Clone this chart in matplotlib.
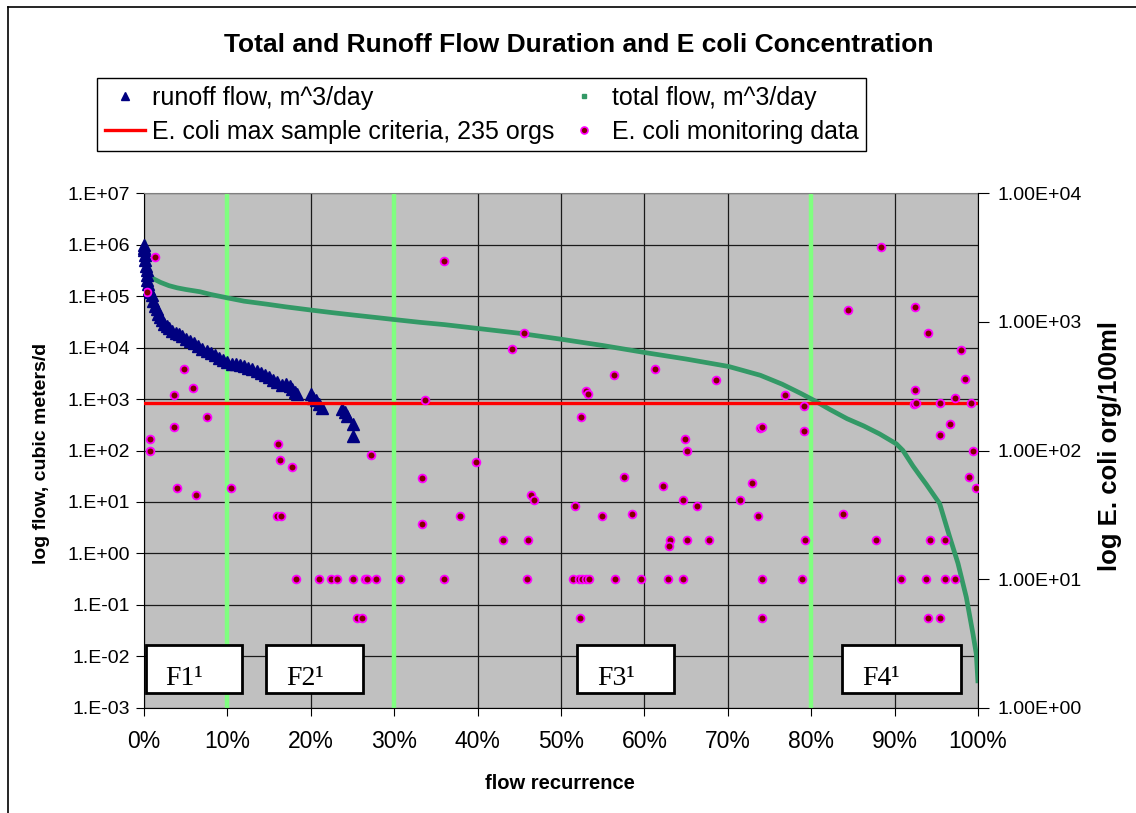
import matplotlib.pyplot as plt
from matplotlib.lines import Line2D
from matplotlib.patches import Rectangle
from matplotlib.ticker import FixedLocator, NullLocator, PercentFormatter

plt.rcParams['font.family'] = ['Liberation Sans', 'DejaVu Sans']

# runoff flow duration (percent recurrence, m^3/day)
runoff_pct = [0.0, 0.0, 0.05, 0.1, 0.15, 0.25, 0.3, 0.35, 0.4, 0.5, 0.6, 0.75,
              0.9, 1.1, 1.3, 1.5, 1.7, 1.9, 2.1, 2.4, 2.7, 3.0, 3.4, 3.8, 4.2,
              4.6, 5.0, 5.5, 6.0, 6.5, 7.0, 7.5, 8.0, 8.5, 9.0, 9.5, 10.0,
              10.5, 11.0, 11.5, 12.0, 12.5, 13.0, 13.5, 14.0, 14.5, 15.0, 15.5,
              16.0, 16.5, 17.0, 17.5, 17.8, 18.1, 18.4, 20.0, 20.3, 20.6, 21.0,
              21.4, 23.8, 24.1, 24.4, 25.0, 25.0]
runoff_flow = [1.0e6, 8.8e5, 7.8e5, 6.3e5, 5.0e5, 3.8e5, 3.2e5, 2.6e5, 2.1e5,
               1.7e5, 1.4e5, 1.2e5, 1.05e5, 8.0e4, 6.5e4, 5.6e4, 4.6e4, 3.9e4,
               3.4e4, 2.9e4, 2.6e4, 2.4e4, 2.15e4, 1.95e4, 1.8e4, 1.65e4,
               1.5e4, 1.35e4, 1.22e4, 1.08e4, 9.6e3, 8.7e3, 7.9e3, 7.1e3,
               6.4e3, 5.8e3, 5.2e3, 4.9e3, 4.7e3, 4.5e3, 4.4e3, 4.1e3, 3.8e3,
               3.5e3, 3.2e3, 2.9e3, 2.7e3, 2.4e3, 2.1e3, 1.9e3, 2.0e3, 1.8e3,
               1.6e3, 1.4e3, 1.25e3, 1.25e3, 1.05e3, 9.5e2, 8.0e2, 6.8e2,
               6.5e2, 5.5e2, 4.6e2, 3.3e2, 1.95e2]

# total flow duration
total_pct = [0.0, 0.1, 0.2, 0.3, 0.5, 0.8, 1.2, 2.0, 3.0, 4.0, 5.0, 6.7, 8.0,
             10.1, 12.0, 14.7, 17.0, 19.9, 22.5, 25.1, 27.5, 30.1, 33.1, 36.0,
             40.1, 45.0, 50.1, 55.0, 60.1, 65.0, 70.1, 73.9, 76.5, 78.7, 80.3,
             82.3, 84.3, 86.3, 88.2, 90.2, 91.0, 92.2, 93.0, 93.8, 95.4, 96.6,
             97.6, 98.6, 99.4, 99.8, 100.0]
total_flow = [1.2e6, 8e5, 5e5, 3.5e5, 2.8e5, 2.4e5, 2.15e5, 1.85e5, 1.6e5,
              1.45e5, 1.35e5, 1.22e5, 1.08e5, 9.2e4, 8.0e4, 7.0e4, 6.2e4,
              5.4e4, 4.8e4, 4.3e4, 3.9e4, 3.5e4, 3.1e4, 2.8e4, 2.35e4, 1.9e4,
              1.45e4, 1.1e4, 8.0e3, 6.0e3, 4.3e3, 2.9e3, 1.95e3, 1.3e3, 9.5e2,
              6.2e2, 4.15e2, 3.0e2, 2.1e2, 1.35e2, 100, 50, 33, 22, 9.3, 2.1,
              0.64, 0.14, 0.027, 0.011, 0.003]

# E. coli monitoring data (percent recurrence, org/100ml)
ecoli_pct = [1.3, 0.4, 4.8, 5.9, 3.6, 7.5, 3.6, 0.7, 0.7, 16.1, 16.3, 17.8,
             27.2, 4.0, 6.2, 10.4, 16.0, 16.4, 18.2, 21.0, 22.4, 23.2, 25.1,
             26.5, 26.7, 27.8, 30.7, 36.0, 25.5, 26.1, 33.3, 33.3, 37.9, 39.8,
             36.0, 45.6, 44.1, 33.7, 56.4, 61.3, 68.6, 76.8, 53.0, 53.2, 52.4,
             64.9, 65.1, 73.9, 74.1, 57.5, 62.2, 72.9, 46.4, 46.8, 51.7, 54.9,
             58.5, 64.6, 66.3, 71.5, 73.6, 43.1, 46.1, 63.1, 62.9, 65.1, 67.8,
             79.3, 87.8, 45.9, 51.4, 52.2, 52.5, 53.0, 53.3, 56.5, 59.6, 62.8,
             64.6, 74.1, 78.9, 52.3, 74.1, 88.4, 84.4, 92.5, 94.0, 98.0, 98.4,
             92.5, 79.1, 92.3, 92.6, 95.4, 97.2, 99.2, 79.1, 96.6, 95.4, 99.4,
             98.9, 99.8, 83.8, 94.3, 96.0, 90.8, 93.8, 96.0, 97.2, 94.0, 95.4]
ecoli_val = [3200, 1700, 430, 306, 268, 182, 152, 123, 100, 113, 84, 75,
             92, 51, 45, 51, 31, 31, 10, 10, 10, 10, 10,
             10, 10, 10, 10, 10, 5, 5, 61, 27, 31, 82,
             3000, 815, 620, 245, 387, 430, 351, 268, 288, 275, 182,
             123, 100, 149, 152, 62, 53, 56, 45, 41, 37, 31,
             32, 41, 37, 41, 31, 20, 20, 20, 18, 20, 20,
             20, 20, 10, 10, 10, 10, 10, 10, 10, 10, 10,
             10, 10, 10, 5, 5, 3840, 1230, 1316, 815, 608, 360,
             293, 223, 228, 234, 234, 256, 234, 142, 162, 133, 100,
             62, 51, 32, 20, 20, 10, 10, 10, 10, 5, 5]

criteria = 235
zone_lines = [10, 30, 80]
zone_names = ['F1\u00b9', 'F2\u00b9', 'F3\u00b9', 'F4\u00b9']
zone_left = [0.2, 14.6, 51.9, 83.7]
zone_width = [11.6, 11.6, 11.6, 14.3]

flow_ticks = [1e-3, 1e-2, 1e-1, 1e0, 1e1, 1e2, 1e3, 1e4, 1e5, 1e6, 1e7]
flow_labels = ['1.E-03', '1.E-02', '1.E-01', '1.E+00', '1.E+01', '1.E+02',
               '1.E+03', '1.E+04', '1.E+05', '1.E+06', '1.E+07']
ecoli_ticks = [1, 10, 100, 1000, 10000]
ecoli_labels = ['1.00E+00', '1.00E+01', '1.00E+02', '1.00E+03', '1.00E+04']

W, H = 1136, 813
fig = plt.figure(figsize=(W / 100, H / 100), dpi=100)
ax = fig.add_axes([144 / W, 1 - 707.7 / H, 834 / W, 514.4 / H])
ax.set_facecolor('#C0C0C0')
ax.set_xlim(0, 100)
ax.set_yscale('log')
ax.set_ylim(1e-3, 1e7)
ax.yaxis.set_major_locator(FixedLocator(flow_ticks))
ax.set_yticklabels(flow_labels)
ax.yaxis.set_minor_locator(NullLocator())
ax.set_xticks(range(0, 101, 10))
ax.xaxis.set_major_formatter(PercentFormatter(100, decimals=0))
ax.grid(True, color='#1a1a1a', lw=0.9)
ax.set_axisbelow(True)
ax.tick_params(axis='y', direction='out', length=6, labelsize=14, pad=4)
ax.tick_params(axis='x', direction='out', length=6, labelsize=16.5, pad=10)
ax.spines['top'].set_color('#808080')
ax.spines['right'].set_visible(False)

for z in zone_lines:
    ax.axvline(z, color='#80FF80', lw=3.2, zorder=2)

ax.plot(total_pct, total_flow, '-', color='#339966', lw=3.4,
        solid_capstyle='butt', zorder=3)
ax.plot(runoff_pct, runoff_flow, '^', color='#000080', ms=8, mec='#000080',
        zorder=4, clip_on=False)

for name, left, w in zip(zone_names, zone_left, zone_width):
    ax.add_patch(Rectangle((left / 100, 0.0286), w / 100, 0.0926,
                           transform=ax.transAxes, facecolor='white',
                           edgecolor='black', lw=2, zorder=5))
    ax.text(left / 100 + 0.024, 0.044, name, transform=ax.transAxes,
            family='Liberation Serif', fontsize=20, zorder=6)

ax2 = ax.twinx()
ax2.set_yscale('log')
ax2.set_ylim(1, 1e4)
ax2.yaxis.set_major_locator(FixedLocator(ecoli_ticks))
ax2.set_yticklabels(ecoli_labels)
ax2.yaxis.set_minor_locator(NullLocator())
ax2.tick_params(axis='y', direction='out', length=8, labelsize=14, pad=6)
for s in ['top', 'left', 'bottom']:
    ax2.spines[s].set_visible(False)
ax2.axhline(criteria, color='#FF0000', lw=2.4, zorder=2)
ax2.plot(ecoli_pct, ecoli_val, 'o', mfc='#800000', mec='#FF00FF', ms=5.6,
         mew=1.3, zorder=3)

handles = [
    Line2D([], [], marker='^', ls='', color='#000080', ms=6),
    Line2D([], [], color='#FF0000', lw=2.4),
    Line2D([], [], marker='s', ls='', color='#339966', ms=2.5),
    Line2D([], [], marker='o', ls='', mfc='#800000', mec='#FF00FF', ms=5,
           mew=1.2),
]
labels = ['runoff flow, m^3/day', 'E. coli max sample criteria, 235 orgs',
          'total flow, m^3/day', 'E. coli monitoring data']
leg = fig.legend(handles, labels, loc='upper left', ncol=2,
                 bbox_to_anchor=(97 / W, 1 - 78 / H),
                 fontsize=18, frameon=True, fancybox=False, framealpha=1,
                 edgecolor='black', borderaxespad=0, handlelength=1.6,
                 handletextpad=0.3, labelspacing=0.4, borderpad=0.3,
                 columnspacing=0.4)
leg.get_frame().set_linewidth(1.0)

fig.text(579 / W, 1 - 45 / H, 'Total and Runoff Flow Duration and E coli Concentration',
         ha='center', va='center', fontsize=19, fontweight='bold')
fig.text(42 / W, 1 - 453 / H, 'log flow, cubic meters/d', rotation=90,
         ha='center', va='center', fontsize=14, fontweight='bold')
fig.text(1110 / W, 1 - 446 / H, 'log E. coli org/100ml', rotation=90,
         ha='center', va='center', fontsize=18.5, fontweight='bold')
fig.text(560 / W, 1 - 783 / H, 'flow recurrence', ha='center', va='center',
         fontsize=14.5, fontweight='bold')

# outer chart border
fig.add_artist(Line2D([8 / W, 1], [1 - 7 / H, 1 - 7 / H], color='black', lw=1.2))
fig.add_artist(Line2D([8 / W, 8 / W], [0, 1 - 7 / H], color='black', lw=1.2))

fig.savefig('out.png', dpi=100)
